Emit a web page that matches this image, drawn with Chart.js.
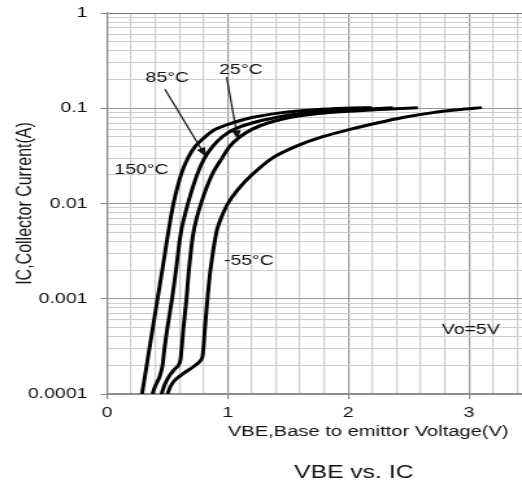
<!DOCTYPE html>
<html><head><meta charset="utf-8">
<script src="https://cdn.jsdelivr.net/npm/chart.js@4"></script>
<style>
html,body{margin:0;padding:0;background:#fff;overflow:hidden;width:522px;height:486px}
#c{display:block;transform:scaleX(1.2985);transform-origin:0 0}
</style></head><body>
<canvas id="c" width="402" height="486"></canvas>
<script>
// ---- data (VBE in V, IC in A) ----
const curveNames = ['150°C', '85°C', '25°C', '-55°C'];
const v150 = [0.290,0.329,0.380,0.419,0.458,0.508,0.551,0.613,0.671,0.733,0.812,0.895,1.036,1.201,1.450,1.723,1.972,2.195];
const i150 = [1e-4,2e-4,5e-4,1e-3,2e-3,5e-3,1e-2,2e-2,3e-2,4e-2,5e-2,6e-2,7e-2,8e-2,9e-2,0.0964,0.1,0.1015];
const v85 = [0.377,0.398,0.435,0.460,0.476,0.501,0.539,0.572,0.613,0.671,0.746,0.808,0.878,0.953,1.052,1.201,1.400,1.665,1.972,2.370];
const i85 = [1e-4,1.2e-4,1.5e-4,2e-4,3e-4,5e-4,1e-3,2e-3,5e-3,1e-2,2e-2,3e-2,4e-2,5e-2,6e-2,7e-2,8e-2,9e-2,0.0953,0.1015];
const v25 = [0.452,0.472,0.510,0.555,0.592,0.609,0.634,0.659,0.679,0.717,0.779,0.870,0.953,1.019,1.102,1.201,1.334,1.516,1.848,2.220,2.577];
const i25 = [1e-4,1.2e-4,1.5e-4,1.79e-4,2e-4,2.28e-4,5e-4,1e-3,2e-3,5e-3,1e-2,2e-2,3e-2,4e-2,5e-2,6e-2,7e-2,8e-2,9e-2,0.0964,0.1015];
const vm55 = [0.501,0.526,0.563,0.638,0.713,0.766,0.791,0.812,0.833,0.857,0.907,0.945,1.002,1.085,1.201,1.370,1.570,1.781,2.013,2.237,2.452,2.701,2.908,3.107];
const im55 = [1e-4,1.2e-4,1.4e-4,1.66e-4,1.92e-4,2.17e-4,2.45e-4,5e-4,1e-3,2e-3,5e-3,7e-3,1e-2,0.014,2e-2,3e-2,4e-2,5e-2,6e-2,7e-2,8e-2,9e-2,0.0964,0.1015];
const xTickLabels = ['0', '1', '2', '3'];
const yTickLabels = ['0.0001', '0.001', '0.01', '0.1', '1'];
const xTitle = 'VBE,Base to emittor Voltage(V)';
const yTitle = 'IC,Collector Current(A)';
const chartTitle = 'VBE vs. IC';
const noteText = 'Vo=5V';

// ---- annotations (data coordinates) ----
const labelPos = [
  {t: curveNames[0], v: 0.286, i: 0.0228},
  {t: curveNames[1], v: 0.50, i: 0.207},
  {t: curveNames[2], v: 1.11, i: 0.251},
  {t: curveNames[3], v: 1.176, i: 0.00251},
  {t: noteText, v: 3.016, i: 4.72e-4}
];
const arrows = [
  {v0: 0.48, i0: 0.158, v1: 0.82, i1: 0.031},
  {v0: 0.992, i0: 0.212, v1: 1.085, i1: 0.047}
];

const FONT = '"Liberation Sans", Arial, sans-serif';
const isInt = v => Math.abs(v - Math.round(v)) < 1e-6;
const isDecade = v => isInt(Math.log10(v));
const pts = (vs, is) => vs.map((v, k) => ({x: v, y: is[k]}));
const series = [[v150, i150], [v85, i85], [v25, i25], [vm55, im55]];

const annot = {
  id: 'annot',
  afterDraw(chart) {
    const {ctx, scales: {x, y}, chartArea} = chart;
    ctx.save();
    ctx.fillStyle = '#111';
    ctx.strokeStyle = '#111';
    ctx.font = '15px ' + FONT;
    ctx.textAlign = 'center';
    ctx.textBaseline = 'middle';
    labelPos.forEach(l => ctx.fillText(l.t, x.getPixelForValue(l.v), y.getPixelForValue(l.i)));
    arrows.forEach(a => {
      const x0 = x.getPixelForValue(a.v0), y0 = y.getPixelForValue(a.i0);
      const x1 = x.getPixelForValue(a.v1), y1 = y.getPixelForValue(a.i1);
      ctx.lineWidth = 1.2;
      ctx.beginPath(); ctx.moveTo(x0, y0); ctx.lineTo(x1, y1); ctx.stroke();
      const ang = Math.atan2(y1 - y0, x1 - x0), L = 9, Wd = 3.5;
      ctx.beginPath();
      ctx.moveTo(x1, y1);
      ctx.lineTo(x1 - L * Math.cos(ang) + Wd * Math.sin(ang), y1 - L * Math.sin(ang) - Wd * Math.cos(ang));
      ctx.lineTo(x1 - L * Math.cos(ang) - Wd * Math.sin(ang), y1 - L * Math.sin(ang) + Wd * Math.cos(ang));
      ctx.closePath(); ctx.fill();
    });
    ctx.textBaseline = 'alphabetic';
    ctx.font = '15.5px ' + FONT;
    ctx.fillText(xTitle, x.getPixelForValue(2.166), chartArea.bottom + 42);
    ctx.font = '19px ' + FONT;
    ctx.fillText(chartTitle, x.getPixelForValue(2.046), chartArea.bottom + 84);
    ctx.restore();
  }
};

new Chart(document.getElementById('c'), {
  type: 'scatter',
  data: {
    datasets: series.map((s, k) => ({
      label: curveNames[k],
      data: pts(s[0], s[1]),
      showLine: true,
      borderColor: '#000',
      borderWidth: 3,
      pointRadius: 0,
      tension: 0.3,
      fill: false
    }))
  },
  options: {
    responsive: false,
    animation: false,
    devicePixelRatio: 1,
    layout: {padding: {top: 13, right: 0, bottom: 0, left: 0}},
    plugins: {legend: {display: false}, tooltip: {enabled: false}, title: {display: false}},
    scales: {
      x: {
        type: 'linear', min: 0, max: 3.44,
        afterFit: s => { s.height = 92; s.paddingLeft = 0; s.paddingRight = 0; },
        ticks: {
          stepSize: 0.2, autoSkip: false, includeBounds: false, maxRotation: 0, padding: 5,
          color: '#111', font: {family: FONT, size: 15},
          callback: v => isInt(v) ? xTickLabels[Math.round(v)] : ''
        },
        grid: {
          lineWidth: 1.2, tickLength: 5,
          color: c => (c.tick && isInt(c.tick.value)) ? '#999' : '#cdcdcd',
          tickColor: c => (c.tick && isInt(c.tick.value)) ? '#888' : 'rgba(0,0,0,0)'
        },
        border: {color: '#8a8a8a', width: 1.5}
      },
      y: {
        type: 'logarithmic', min: 1e-4, max: 1,
        afterBuildTicks: s => {
          s.ticks = s.ticks.filter(t => {
            const m = t.value / Math.pow(10, Math.floor(Math.log10(t.value) + 1e-9));
            return isInt(m);
          });
        },
        afterFit: s => { s.width = 82.4; s.paddingTop = 0; s.paddingBottom = 0; },
        ticks: {
          autoSkip: false, padding: 10, color: '#111', font: {family: FONT, size: 15},
          callback: v => isDecade(v) ? yTickLabels[Math.round(Math.log10(v)) + 4] : ''
        },
        grid: {
          lineWidth: 1, tickLength: 5,
          color: c => {
            if (!c.tick) return '#cdcdcd';
            if (c.tick.value >= 0.9999) return '#777';
            return isDecade(c.tick.value) ? '#999' : '#cdcdcd';
          },
          tickColor: c => (c.tick && isDecade(c.tick.value)) ? '#888' : 'rgba(0,0,0,0)'
        },
        border: {color: '#8a8a8a', width: 1.2},
        title: {display: true, text: yTitle, color: '#111', font: {family: FONT, size: 16}, padding: {top: 9.7, bottom: 0}}
      }
    }
  },
  plugins: [annot]
});
</script>
</body></html>
